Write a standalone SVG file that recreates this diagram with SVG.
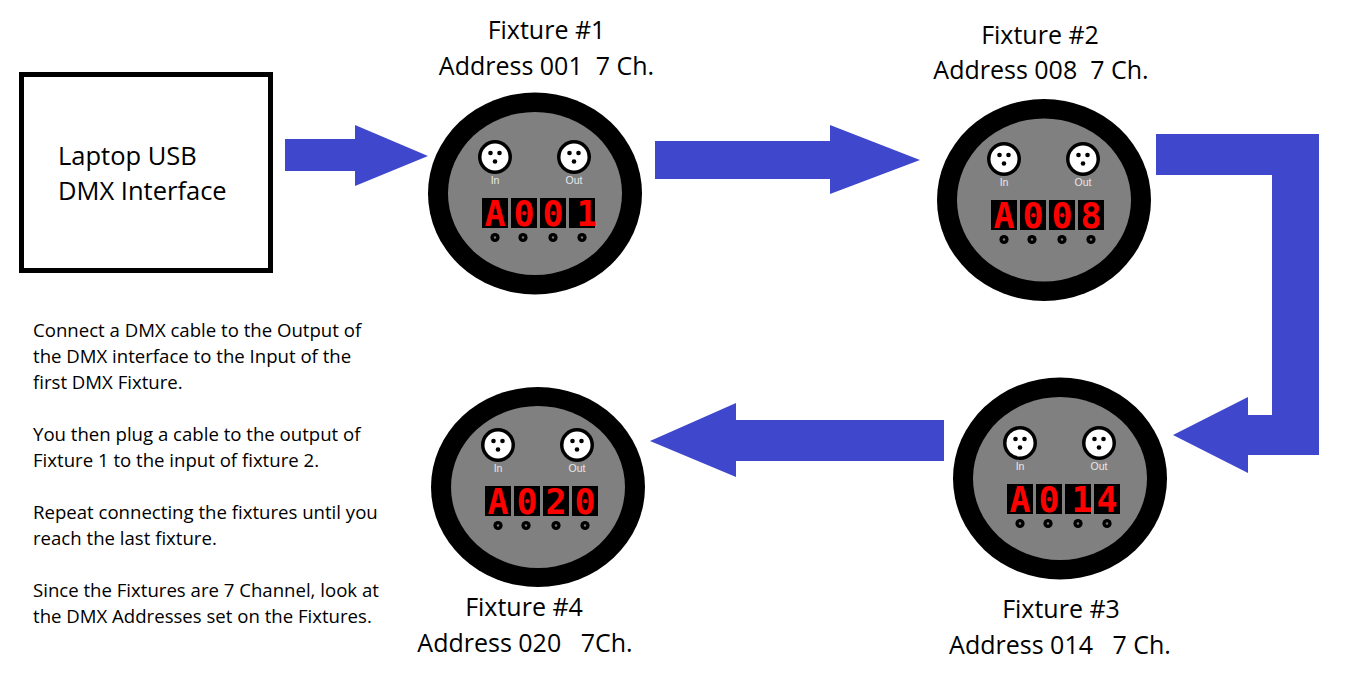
<svg xmlns="http://www.w3.org/2000/svg" xmlns:xlink="http://www.w3.org/1999/xlink" width="1372" height="683" viewBox="0 0 1372 683">
<style>
.title{font-family:"Open Sans","Liberation Sans",sans-serif;font-size:25px;fill:#000;text-anchor:middle}
.body{font-family:"Open Sans","Liberation Sans",sans-serif;font-size:18.6px;fill:#000}
.lap{font-family:"Open Sans","Liberation Sans",sans-serif;font-size:25.5px;fill:#000}
.port{font-family:"Liberation Sans","DejaVu Sans",sans-serif;font-size:10.5px;fill:#e8e8e8;text-anchor:middle}
.seg{font-family:"DejaVu Sans Mono","Liberation Mono",monospace;font-weight:bold;font-size:35px;fill:#ff0000;text-anchor:middle}
.outer{fill:#000}
.inner{fill:#808080}
.arrow{fill:#3f48cc}
</style>
<defs>
<g id="xlr">
<circle r="17" fill="#000"/>
<circle r="13.5" fill="#fff"/>
<circle cx="-4.5" cy="-4" r="2.3" fill="#000"/>
<circle cx="4.5" cy="-4" r="2.3" fill="#000"/>
<circle cx="0" cy="4.5" r="2.3" fill="#000"/>
</g>
<g id="knob">
<circle r="4.6" fill="#000"/>
<circle r="1.2" fill="#777"/>
</g>
<g id="panel">
<use xlink:href="#xlr" x="0" y="0"/>
<use xlink:href="#xlr" x="79" y="0"/>
<text class="port" x="0" y="27">In</text>
<text class="port" x="79" y="27">Out</text>
<rect x="-13" y="41" width="26" height="30" fill="#000"/>
<rect x="16" y="41" width="26" height="30" fill="#000"/>
<rect x="45" y="41" width="26" height="30" fill="#000"/>
<rect x="74" y="41" width="26" height="30" fill="#000"/>
<use xlink:href="#knob" x="0" y="80.5"/>
<use xlink:href="#knob" x="28" y="80.5"/>
<use xlink:href="#knob" x="58" y="80.5"/>
<use xlink:href="#knob" x="87" y="80.5"/>
</g>
</defs>
<rect width="1372" height="683" fill="#fff"/>

<g id="connectors">
<polygon class="arrow" points="285,139 355,139 355,125 428,156 355,186 355,171 285,171"/>
<polygon class="arrow" points="655,141 830,141 830,125 920,160 830,194 830,179 655,179"/>
<polygon class="arrow" points="1156,134 1319,134 1319,455 1248,455 1248,473 1173,435 1248,397 1248,415 1272,415 1272,175 1156,175"/>
<polygon class="arrow" points="944,420 736,420 736,403 650,441 736,477 736,461 944,461"/>
</g>

<g id="laptop">
<rect x="21.5" y="74.5" width="249" height="196" fill="#fff" stroke="#000" stroke-width="5"/>
<text class="lap" x="58" y="165">Laptop USB</text>
<text class="lap" x="58" y="200">DMX Interface</text>
</g>

<g id="fixture1">
<text class="title" x="546.5" y="39">Fixture #1</text>
<text class="title" x="546.5" y="75" xml:space="preserve">Address 001  7 Ch.</text>
<ellipse class="outer" cx="535" cy="193.5" rx="107" ry="101"/>
<ellipse class="inner" cx="535" cy="193.5" rx="87" ry="81.5"/>
<use xlink:href="#panel" x="495" y="157"/>
<text class="seg" y="226"><tspan x="495">A</tspan><tspan x="524">0</tspan><tspan x="553">0</tspan><tspan x="587">1</tspan></text>
</g>

<g id="fixture2">
<text class="title" x="1040" y="44">Fixture #2</text>
<text class="title" x="1041" y="79" xml:space="preserve">Address 008  7 Ch.</text>
<ellipse class="outer" cx="1044" cy="200" rx="107" ry="101"/>
<ellipse class="inner" cx="1044" cy="200" rx="87" ry="81.5"/>
<use xlink:href="#panel" x="1004" y="159"/>
<text class="seg" y="228"><tspan x="1004">A</tspan><tspan x="1033">0</tspan><tspan x="1062">0</tspan><tspan x="1091">8</tspan></text>
</g>

<g id="fixture3">
<text class="title" x="1061" y="618">Fixture #3</text>
<text class="title" x="1060" y="654" xml:space="preserve">Address 014   7 Ch.</text>
<ellipse class="outer" cx="1060" cy="478.5" rx="107" ry="101"/>
<ellipse class="inner" cx="1060" cy="478.5" rx="87" ry="81.5"/>
<use xlink:href="#panel" x="1020" y="443"/>
<text class="seg" y="512"><tspan x="1020">A</tspan><tspan x="1049">0</tspan><tspan x="1082">1</tspan><tspan x="1107">4</tspan></text>
</g>

<g id="fixture4">
<text class="title" x="524" y="616">Fixture #4</text>
<text class="title" x="525" y="652" xml:space="preserve">Address 020   7Ch.</text>
<ellipse class="outer" cx="538" cy="487" rx="107" ry="100"/>
<ellipse class="inner" cx="538" cy="487" rx="87" ry="81"/>
<use xlink:href="#panel" x="498" y="445"/>
<text class="seg" y="514"><tspan x="498">A</tspan><tspan x="527">0</tspan><tspan x="556">2</tspan><tspan x="585">0</tspan></text>
</g>

<g id="instructions">
<text class="body" x="33" y="337">Connect a DMX cable to the Output of</text>
<text class="body" x="33" y="363">the DMX interface to the Input of the</text>
<text class="body" x="33" y="389">first DMX Fixture.</text>
<text class="body" x="33" y="441">You then plug a cable to the output of</text>
<text class="body" x="33" y="467">Fixture 1 to the input of fixture 2.</text>
<text class="body" x="33" y="519">Repeat connecting the fixtures until you</text>
<text class="body" x="33" y="545">reach the last fixture.</text>
<text class="body" x="33" y="597">Since the Fixtures are 7 Channel, look at</text>
<text class="body" x="33" y="623">the DMX Addresses set on the Fixtures.</text>
</g>
</svg>
